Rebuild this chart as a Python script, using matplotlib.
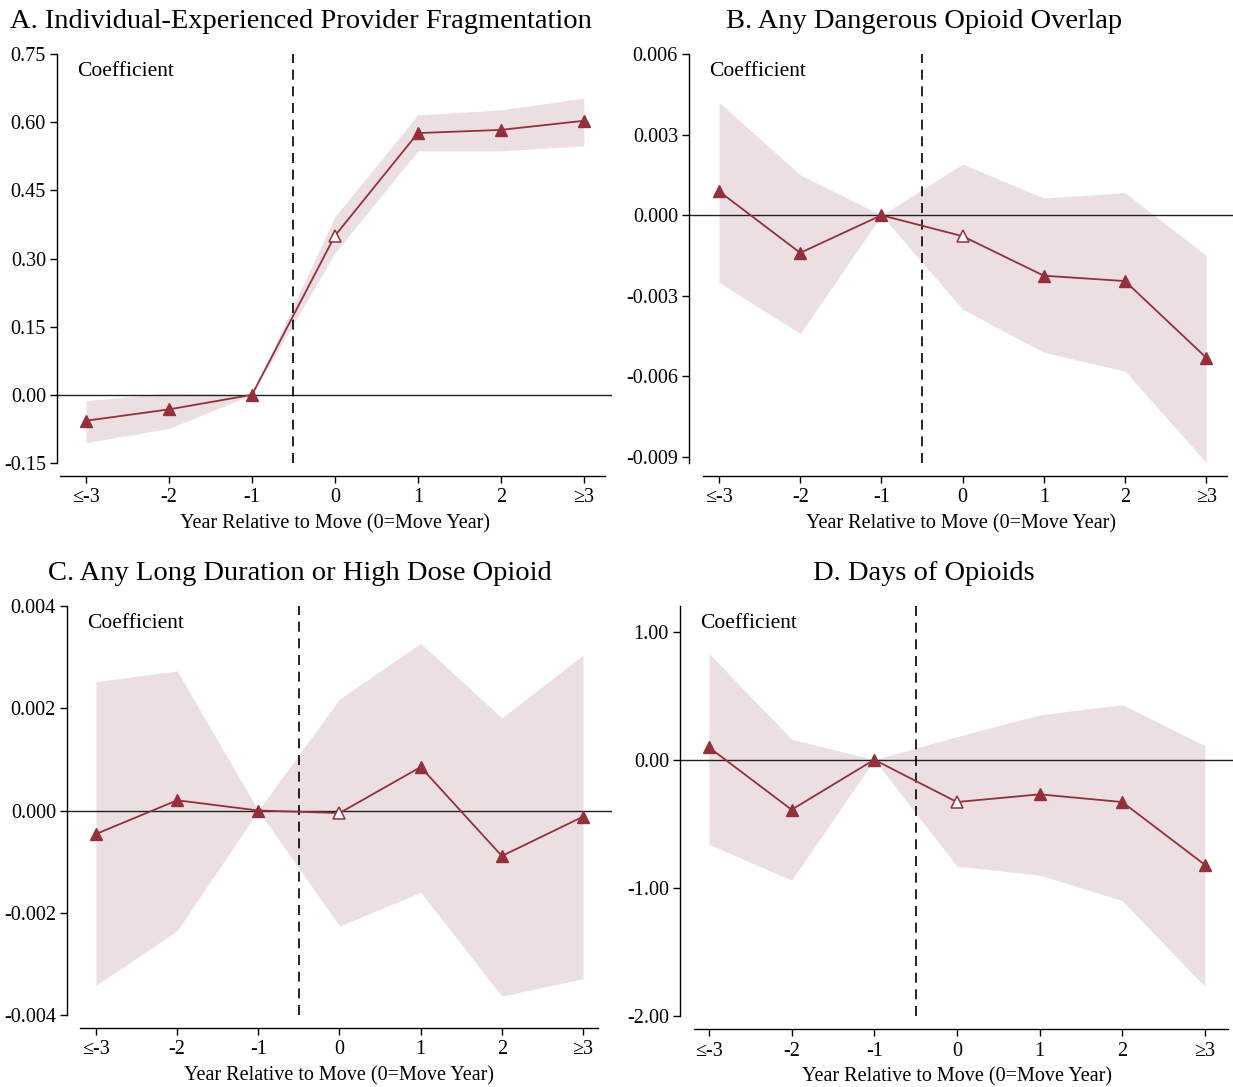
import matplotlib

matplotlib.use("Agg")
import matplotlib.pyplot as plt  # noqa: E402
import numpy as np  # noqa: E402

plt.rcParams["font.family"] = ["Liberation Serif", "DejaVu Serif"]

# event-time axis
years = [-3, -2, -1, 0, 1, 2, 3]
year_labels = ["≤-3", "-2", "-1", "0", "1", "2", "≥3"]
hollow_year = 0

# A. provider fragmentation
a_coef = [-0.057, -0.032, 0.0, 0.350, 0.576, 0.583, 0.603]
a_lo = [-0.105, -0.074, 0.0, 0.312, 0.537, 0.537, 0.548]
a_hi = [-0.013, 0.004, 0.0, 0.392, 0.616, 0.627, 0.653]
a_yticks = [-0.15, 0.00, 0.15, 0.30, 0.45, 0.60, 0.75]
a_ylabels = ["-0.15", "0.00", "0.15", "0.30", "0.45", "0.60", "0.75"]

# B. dangerous overlap
b_coef = [0.00089, -0.0014, 0.0, -0.00078, -0.00225, -0.00245, -0.0053]
b_lo = [-0.0025, -0.0044, 0.0, -0.0035, -0.0051, -0.0058, -0.0092]
b_hi = [0.0042, 0.0015, 0.0, 0.0019, 0.00064, 0.00084, -0.0015]
b_yticks = [-0.009, -0.006, -0.003, 0.0, 0.003, 0.006]
b_ylabels = ["-0.009", "-0.006", "-0.003", "0.000", "0.003", "0.006"]

# C. long duration / high dose
c_coef = [-0.00046, 0.0002, 0.0, -0.00005, 0.00085, -0.00089, -0.00012]
c_lo = [-0.00342, -0.00235, 0.0, -0.00226, -0.0016, -0.00363, -0.00329]
c_hi = [0.00252, 0.00273, 0.0, 0.00218, 0.00327, 0.00181, 0.00304]
c_yticks = [-0.004, -0.002, 0.0, 0.002, 0.004]
c_ylabels = ["-0.004", "-0.002", "0.000", "0.002", "0.004"]

# D. days of opioids
d_coef = [0.097, -0.39, 0.0, -0.33, -0.27, -0.33, -0.82]
d_lo = [-0.66, -0.94, 0.0, -0.83, -0.90, -1.10, -1.77]
d_hi = [0.83, 0.16, 0.0, 0.18, 0.35, 0.43, 0.11]
d_yticks = [-2.0, -1.0, 0.0, 1.0]
d_ylabels = ["-2.00", "-1.00", "0.00", "1.00"]

W, H, DPI = 1233, 1087, 100
LINE = "#93303c"
BAND = "#ecdfe1"
PX = 72.0 / DPI

fig = plt.figure(figsize=(W / DPI, H / DPI), dpi=DPI)


def px_axes(left, top, right, bottom):
    return fig.add_axes([left / W, 1 - bottom / H, (right - left) / W, (bottom - top) / H])


panels = [
    # title, box px, title center, xlim, ylim, xspine bounds, data, yticks
    ("A. Individual-Experienced Provider Fragmentation", (57, 54, 612, 463), (301, 22),
     (-3.35, 3.34), (-0.15, 0.75), (-3.31, 3.25), (a_coef, a_lo, a_hi), (a_yticks, a_ylabels)),
    ("B. Any Dangerous Opioid Overlap", (689, 54, 1233, 463), (924, 22),
     (-3.37, 3.33), (-0.00922, 0.006), (-3.2, 3.25), (b_coef, b_lo, b_hi), (b_yticks, b_ylabels)),
    ("C. Any Long Duration or High Dose Opioid", (67, 606, 612, 1015), (300, 574),
     (-3.357, 3.357), (-0.004, 0.004), (-3.2, 3.18), (c_coef, c_lo, c_hi), (c_yticks, c_ylabels)),
    ("D. Days of Opioids", (680, 606, 1233, 1016), (924, 574),
     (-3.35, 3.34), (-2.0, 1.2), (-3.18, 3.28), (d_coef, d_lo, d_hi), (d_yticks, d_ylabels)),
]

x = np.array(years, dtype=float)
for title, box, tpos, xlim, ylim, xb, (coef, lo, hi), (yt, yl) in panels:
    ax = px_axes(*box)
    ax.set_xlim(*xlim)
    ax.set_ylim(*ylim)
    ax.fill_between(x, lo, hi, color=BAND, linewidth=0, zorder=1)
    ax.axhline(0, color="#222222", linewidth=1.0, zorder=2)
    ax.axvline(-0.5, color="black", linewidth=1.2, linestyle=(0, (6, 4)), zorder=2)
    ax.plot(x, coef, color=LINE, linewidth=1.3, zorder=3)
    coef_arr = np.array(coef)
    filled = x != hollow_year
    ax.plot(x[filled], coef_arr[filled], linestyle="none", marker="^", markersize=9,
            color=LINE, markeredgecolor=LINE, zorder=4)
    ax.plot(x[~filled], coef_arr[~filled], linestyle="none", marker="^", markersize=8,
            markerfacecolor="white", markeredgecolor=LINE, markeredgewidth=1.1, zorder=4)

    for s in ("top", "right"):
        ax.spines[s].set_visible(False)
    ax.spines["left"].set_linewidth(1.0)
    ax.spines["bottom"].set_linewidth(1.0)
    ax.spines["bottom"].set_position(("outward", 13 * PX))
    ax.spines["bottom"].set_bounds(*xb)

    ax.set_xticks(years)
    ax.set_xticklabels(year_labels, fontsize=14.5)
    ax.set_yticks(yt)
    ax.set_yticklabels(yl, fontsize=14.5)
    ax.tick_params(axis="both", direction="out", length=5, width=1.0, colors="black")
    ax.tick_params(axis="x", pad=4)
    ax.tick_params(axis="y", pad=3)
    ax.set_xlabel("Year Relative to Move (0=Move Year)", fontsize=14.5, labelpad=5)
    ax.annotate("Coefficient", xy=(0, 1), xycoords="axes fraction",
                xytext=(20 * PX, -17 * PX), textcoords="offset points",
                ha="left", va="center", fontsize=15.5)
    ax.patch.set_visible(False)

    fig.text(tpos[0] / W, 1 - tpos[1] / H, title, ha="center", va="center", fontsize=20.5)

fig.savefig("out.png", dpi=DPI)
